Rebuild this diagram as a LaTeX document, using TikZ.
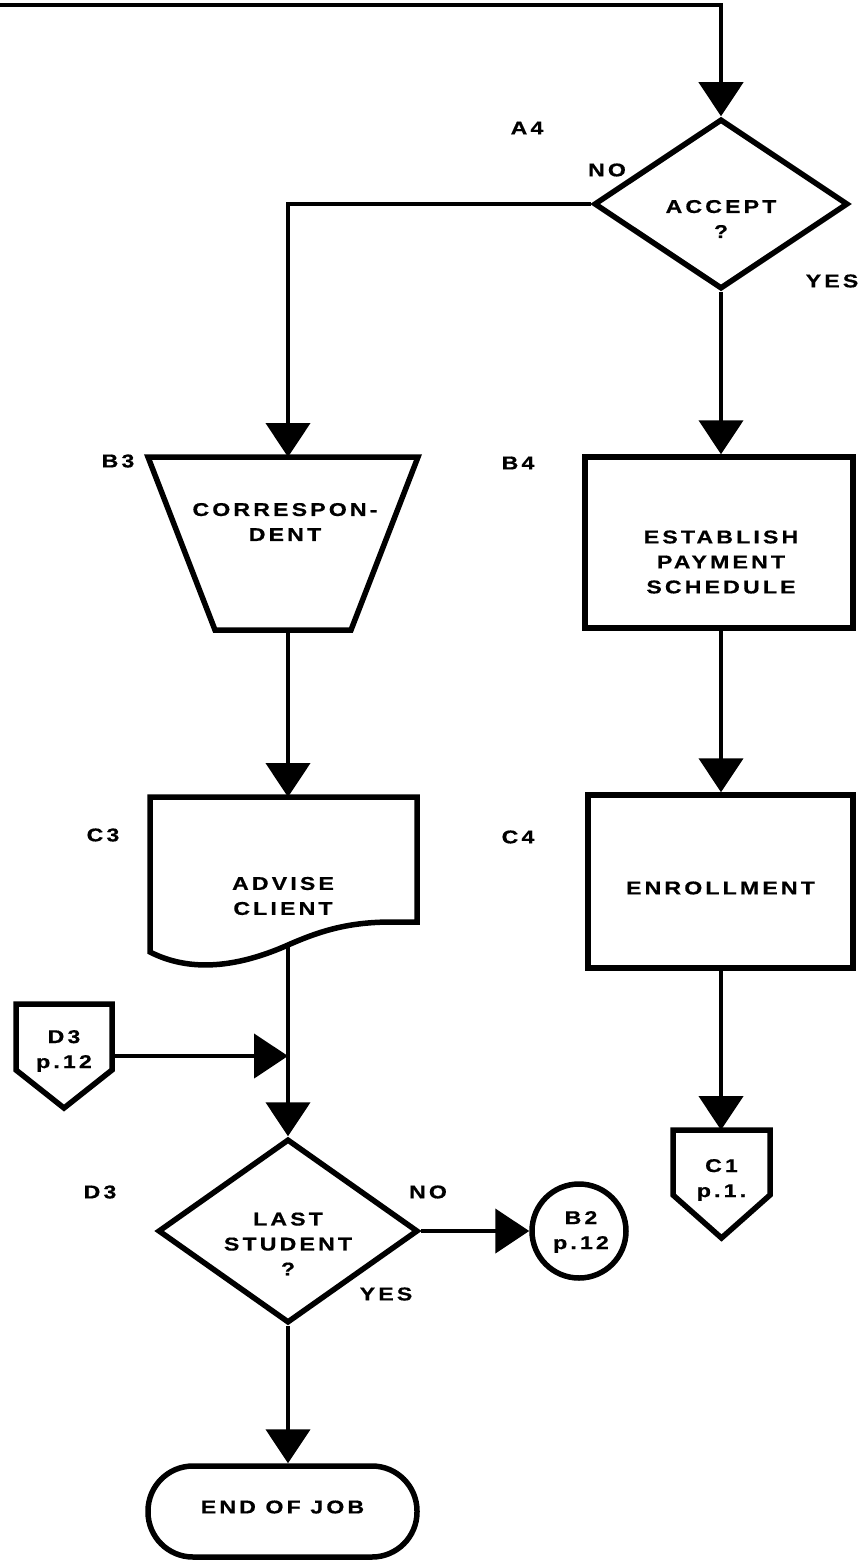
\documentclass[tikz,border=0pt]{standalone}
\usepackage{fontspec}
\usetikzlibrary{arrows.meta,shapes.geometric,calc}
\newfontfamily\chartfont{Liberation Sans}[UprightFont=* Bold,FakeBold=0.6,FakeStretch=1.25,LetterSpace=17]
\begin{document}
\begin{tikzpicture}[x=1pt,y=-1pt,
  txt/.style={font=\chartfont\fontsize{18.5}{25}\selectfont, align=center, inner sep=0pt},
  outline/.style={draw, line width=5.5pt, line join=miter},
  anchorbox/.style={draw=none, rectangle, inner sep=0pt, outer sep=0pt},
  flow/.style={line width=4.5pt, -{Triangle[width=44pt,length=34pt]}}]
\useasboundingbox (0,0) rectangle (862,1560);

% column guides
\coordinate (colL) at (288,0);
\coordinate (colR) at (721,0);
\coordinate (start) at (0,5);

% ---------- right column ----------
\node[outline, diamond, minimum width=254pt, minimum height=170pt, inner sep=0pt] (acc) at (721,204) {};
\node[txt] (acctxt) at (721,219) {ACCEPT\\?};
\node[outline, rectangle, minimum width=268pt, minimum height=171pt, inner sep=0pt] (est) at (719,542.5) {};
\node[txt] (esttxt) at (721,562) {ESTABLISH\\PAYMENT\\SCHEDULE};
\node[outline, rectangle, minimum width=265pt, minimum height=173pt, inner sep=0pt] (enr) at (720.5,881.5) {};
\node[txt] (enrtxt) at (720.5,888) {ENROLLMENT};
% off-page connector C1
\node[anchorbox, minimum width=97pt, minimum height=108pt] (c1) at (721.5,1184) {};
\draw[outline] (673,1130) -- (770,1130) -- (770,1195) -- (721.5,1238) -- (673,1195) -- cycle;
\node[txt] (c1txt) at (721.5,1180) {C1\\p.1.};

% ---------- left column ----------
% correspondence (manual operation)
\node[anchorbox, minimum width=267pt, minimum height=173pt] (corr) at (283,543.5) {};
\draw[outline] (148,457) -- (418,457) -- (351,630) -- (215,630) -- cycle;
\node[txt] (corrtxt) at (285,522) {CORRESPON-\\DENT};
% document
\node[anchorbox, minimum width=267pt, minimum height=155pt] (adv) at (283.5,874.5) {};
\draw[outline] (150,952) -- (150,797) -- (417,797) -- (417,922) -- (392,922)
  .. controls (350,922) and (322,930) .. (288,945)
  .. controls (245,964) and (195,975) .. cycle;
\coordinate (advout) at (288,945);
\node[txt] (advtxt) at (283,896) {ADVISE\\CLIENT};
% off-page connector D3
\node[anchorbox, minimum width=96pt, minimum height=104pt] (d3) at (64,1056) {};
\draw[outline] (16,1004) -- (112,1004) -- (112,1070) -- (64,1108) -- (16,1070) -- cycle;
\node[txt] (d3txt) at (64,1051) {D3\\p.12};
\coordinate (merge) at (d3.east -| colL);
% decision
\node[outline, diamond, minimum width=260pt, minimum height=184pt, inner sep=0pt] (lst) at (288,1231) {};
\node[txt] (lsttxt) at (288,1244) {LAST\\STUDENT\\?};
% on-page connector
\node[outline, circle, minimum size=94pt, inner sep=0pt] (b2) at (579,1231) {};
\node[txt] (b2txt) at (581,1232) {B2\\p.12};
% terminal
\node[outline, rectangle, rounded corners=45pt, minimum width=269pt, minimum height=91pt, inner sep=0pt] (term) at (282.5,1511.5) {};
\node[txt] (termtxt) at (282.5,1507) {END OF JOB};

% ---------- reference labels ----------
\node[txt] (la4) at (527,128) {A4};
\node[txt] (lb3) at (118,461) {B3};
\node[txt] (lb4) at (518,463) {B4};
\node[txt] (lc3) at (103,835) {C3};
\node[txt] (lc4) at (518,837) {C4};
\node[txt] (ld3) at (100,1192) {D3};
\node[txt] (no1) at (607,170) {NO};
\node[txt] (yes1) at (832,281) {YES};
\node[txt] (no2) at (428,1192) {NO};
\node[txt] (yes2) at (386,1294) {YES};

% ---------- connectors ----------
\draw[flow] (start) -| (acc.north);
\draw[flow] (acc.west) -| (corr.north -| colL);
\draw[flow] (acc.south) -- (est.north -| acc.south);
\draw[flow] (est.south -| colR) -- (enr.north -| colR);
\draw[flow] (enr.south -| colR) -- (c1.north -| colR);
\draw[flow] (corr.south -| colL) -- (adv.north -| colL);
\draw[flow] (d3.east) -- (merge);
\draw[flow] (advout) -- (lst.north);
\draw[flow] (lst.east) -- (b2.west);
\draw[flow] (lst.south) -- (term.north -| lst.south);
\end{tikzpicture}
\end{document}
